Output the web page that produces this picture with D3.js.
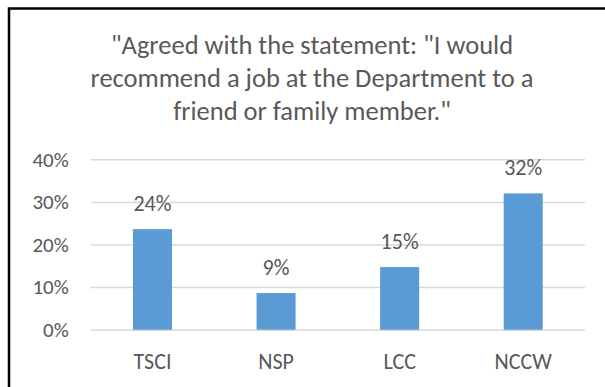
<!DOCTYPE html>
<html>
<head>
<meta charset="utf-8">
<script src="https://cdn.jsdelivr.net/npm/d3@7"></script>
<style>
  html, body { margin: 0; padding: 0; background: #fff; }
  svg { display: block; }
  text { font-family: Calibri, Carlito, Lato, "Open Sans", sans-serif; fill: #595959; }
</style>
</head>
<body>
<svg id="chart" width="605" height="387"></svg>
<script>
// Survey results: share of respondents agreeing, by facility
const categories = ["TSCI", "NSP", "LCC", "NCCW"];
const agreeShare = [0.236, 0.086, 0.147, 0.320];
const yTicks = [0, 0.1, 0.2, 0.3, 0.4];
const titleLines = [
  "\"Agreed with the statement: \"I would",
  "recommend a job at the Department to a",
  "friend or family member.\""
];

const W = 605, H = 387;
const margin = { top: 159.3, right: 20, bottom: 57.3, left: 90.7 };
const svg = d3.select("#chart");

// outer frame of the chart area
svg.append("rect")
  .attr("x", 9).attr("y", 8.5)
  .attr("width", 640).attr("height", 420)
  .attr("fill", "none")
  .attr("stroke", "#000")
  .attr("stroke-width", 2.5);

// title
svg.append("g")
  .selectAll("text")
  .data(titleLines)
  .join("text")
  .attr("x", 312)
  .attr("y", (d, i) => 54 + i * 33)
  .attr("text-anchor", "middle")
  .attr("font-size", 26.5)
  .text(d => d);

const x = d3.scaleBand()
  .domain(categories)
  .range([margin.left, W - margin.right])
  .paddingInner(0.684)
  .paddingOuter(0.342);

const y = d3.scaleLinear()
  .domain([0, 0.4])
  .range([H - margin.bottom, margin.top]);

// value axis with horizontal gridlines
const yAxis = svg.append("g")
  .attr("transform", `translate(${margin.left},0)`)
  .call(d3.axisLeft(y)
    .tickValues(yTicks)
    .tickFormat(d3.format(".0%"))
    .tickSize(-(W - margin.right - margin.left))
    .tickPadding(22));
yAxis.select(".domain").remove();
yAxis.selectAll(".tick line").attr("stroke", "#d9d9d9").attr("stroke-width", 1.5);
yAxis.selectAll(".tick text")
  .attr("font-size", 21)
  .attr("fill", "#595959")
  .attr("font-family", null);

// category axis
const xAxis = svg.append("g")
  .attr("transform", `translate(0,${H - margin.bottom})`)
  .call(d3.axisBottom(x).tickSize(0).tickPadding(24));
xAxis.select(".domain").remove();
xAxis.selectAll(".tick text")
  .attr("font-size", 22)
  .attr("fill", "#595959")
  .attr("font-family", null);

const rows = categories.map((c, i) => ({ cat: c, val: agreeShare[i] }));

// bars
svg.append("g")
  .selectAll("rect")
  .data(rows)
  .join("rect")
  .attr("x", d => x(d.cat))
  .attr("y", d => y(d.val))
  .attr("width", x.bandwidth())
  .attr("height", d => y(0) - y(d.val))
  .attr("fill", "#5b9bd5");

// value labels
svg.append("g")
  .selectAll("text")
  .data(rows)
  .join("text")
  .attr("x", d => x(d.cat) + x.bandwidth() / 2)
  .attr("y", d => y(d.val) - 18)
  .attr("text-anchor", "middle")
  .attr("font-size", 22)
  .text(d => d3.format(".0%")(d.val));
</script>
</body>
</html>
